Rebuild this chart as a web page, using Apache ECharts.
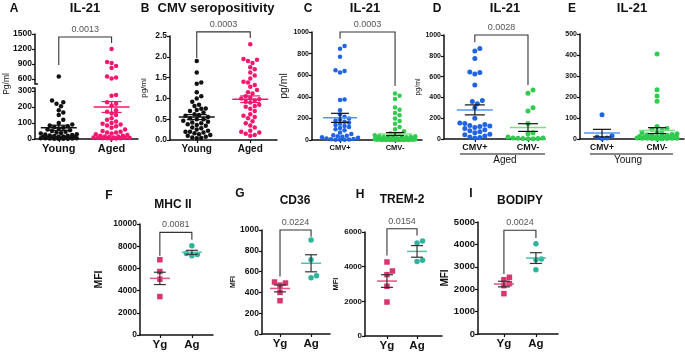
<!DOCTYPE html>
<html>
<head>
<meta charset="utf-8">
<script src="https://cdn.jsdelivr.net/npm/echarts@6/dist/echarts.min.js"></script>
<style>
html, body { margin: 0; padding: 0; background: #fff; }
#main { width: 685px; height: 354px; }
</style>
</head>
<body>
<div id="main"></div>
<script>
var FONT = '"Liberation Sans", Arial, sans-serif';

// A - IL-21, young vs aged (broken axis)
var ageGroups = ['Young', 'Aged'];
var il21Young = [650, 240, 230, 220, 205, 180, 165, 150, 120, 100, 90, 85, 80, 75, 70, 65, 60, 55, 50, 45, 40, 38, 35, 30,
  28, 25, 22, 20, 18, 15, 14, 12, 12, 10, 10, 8, 8, 6, 6, 5, 5, 4, 3, 3, 2, 2, 1, 1];
var il21Aged = [1200, 940, 920, 860, 820, 650, 630, 610, 275, 270, 230, 220, 210, 180, 170, 160, 150, 130, 120, 110, 100,
  95, 90, 85, 80, 70, 60, 50, 45, 40, 40, 35, 30, 25, 20, 20, 15, 15, 12, 10, 10, 8, 8, 6, 5, 5, 4, 3, 2];
var il21Mean = [70, 200];
var il21Sem = [16, 34];
var il21Bracket = [880, 1320, 1440];
var il21P = '0.0013';
var il21LowTicks = [0, 300, 100];
var il21HighTicks = [600, 1500, 300];

// B - CMV seropositivity
var cmvYoung = [1.9, 1.62, 1.38, 1.35, 1.15, 1.05, 1.0, 0.92, 0.85, 0.82, 0.76, 0.75, 0.72, 0.7, 0.66, 0.62, 0.6, 0.58,
  0.55, 0.52, 0.5, 0.5, 0.46, 0.44, 0.42, 0.4, 0.38, 0.36, 0.34, 0.3, 0.28, 0.25, 0.22, 0.2, 0.2, 0.18, 0.16, 0.14, 0.12,
  0.1, 0.08, 0.06, 0.05, 0.04];
var cmvAged = [2.3, 1.95, 1.93, 1.9, 1.85, 1.75, 1.7, 1.62, 1.55, 1.48, 1.4, 1.38, 1.32, 1.28, 1.2, 1.15, 1.12, 1.05, 1.02,
  1.0, 0.98, 0.95, 0.92, 0.9, 0.85, 0.82, 0.8, 0.75, 0.7, 0.62, 0.58, 0.55, 0.52, 0.45, 0.4, 0.35, 0.3, 0.22, 0.2, 0.18,
  0.15, 0.12, 0.1];
var cmvMean = [0.55, 0.98];
var cmvSem = [0.06, 0.08];
var cmvBracket = [1.97, 2.45, 2.6];
var cmvP = '0.0003';
var cmvTicks = [0, 2.5, 0.5];

// C - IL-21 by CMV status, all donors
var serostatus = ['CMV+', 'CMV-'];
var allPos = [870, 845, 770, 645, 640, 625, 375, 370, 275, 235, 215, 200, 190, 180, 170, 160, 150, 140, 130, 120, 110, 100,
  90, 70, 55, 45, 40, 35, 30, 25, 20, 15, 10, 8, 5, 3, 2, 2];
var allNeg = [430, 410, 380, 300, 280, 250, 230, 200, 175, 150, 120, 100, 80, 60, 55, 50, 45, 40, 35, 30, 28, 25, 22, 20,
  18, 16, 15, 14, 12, 12, 10, 10, 9, 8, 8, 7, 6, 6, 5, 5, 4, 4, 3, 3, 2, 2, 2, 1, 1, 1, 0, 0, 0, 0];
var allMean = [205, 55];
var allSem = [42, 14];
var allBracket = [940, 500, 1000];
var allP = '0.0003';
var allTicks = [0, 1000, 200];

// D - aged donors
var agedPos = [870, 845, 775, 645, 640, 625, 520, 370, 360, 340, 300, 200, 155, 150, 140, 130, 125, 120, 110, 100, 90, 80,
  70, 60, 45, 40, 30, 20, 15, 10];
var agedNeg = [470, 440, 300, 270, 150, 60, 50, 20, 15, 10, 10, 8, 5, 5, 3, 2];
var agedMean = [280, 110];
var agedSem = [48, 37];
var agedBracket = [930, 520, 1000];
var agedP = '0.0028';
var agedTicks = [0, 1000, 200];

// E - young donors
var youngPos = [115, 15, 10, 5, 2];
var youngNeg = [405, 235, 205, 180, 60, 50, 45, 40, 35, 30, 25, 22, 20, 18, 15, 15, 12, 12, 10, 10, 8, 8, 6, 6, 5, 5, 4, 4,
  3, 3, 2, 2, 1, 1];
var youngMean = [28, 40];
var youngSem = [18, 14];
var youngTicks = [0, 500, 100];

// F-I - MFI, Yg vs Ag
var cellGroups = ['Yg', 'Ag'];
var mhcYg = [6780, 5720, 5030, 3460];
var mhcAg = [8050, 7350, 7250, 7150];
var mhcMean = [5100, 7450];
var mhcSem = [555, 180];
var mhcBracket = [7140, 8580, 9250];
var mhcP = '0.0081';
var mhcTicks = [0, 10000, 2000];

var cd36Yg = [500, 490, 470, 400, 320];
var cd36Ag = [905, 715, 560, 540];
var cd36Mean = [438, 680];
var cd36Sem = [33, 82];
var cd36Bracket = [553, 936, 1000];
var cd36P = '0.0224';
var cd36Ticks = [0, 1000, 200];

var trem2Yg = [4270, 3750, 3540, 2870, 1960];
var trem2Ag = [5480, 5370, 4370, 4300];
var trem2Mean = [3170, 4880];
var trem2Sem = [365, 335];
var trem2Bracket = [4650, 5800, 6190];
var trem2P = '0.0154';
var trem2Ticks = [0, 6000, 2000];

var bodipyYg = [2530, 2420, 2250, 2160, 1800];
var bodipyAg = [4030, 3350, 3320, 2870];
var bodipyMean = [2230, 3390];
var bodipySem = [125, 240];
var bodipyBracket = [2680, 4290, 4630];
var bodipyP = '0.0024';
var bodipyTicks = [0, 5000, 1000];

var grids = [], xAxes = [], yAxes = [], series = [];

// spread dots sideways so they don't overlap (beeswarm)
function swarm(vals, g, ppx, ppy, d, maxHalf) {
  var placed = [], out = [];
  vals.slice().sort(function (a, b) { return a - b; }).forEach(function (v) {
    var py = v * ppy, best = 0, bestGap = -1;
    for (var k = 0; k < 80; k++) {
      var off = k === 0 ? 0 : (k % 2 ? 1 : -1) * Math.ceil(k / 2) * d * 0.5;
      if (Math.abs(off) > maxHalf) break;
      var gap = Infinity;
      placed.forEach(function (p) {
        var dx = p[0] - off, dy = p[1] - py;
        gap = Math.min(gap, Math.sqrt(dx * dx + dy * dy));
      });
      if (gap >= d * 0.95) { best = off; break; }
      if (gap > bestGap) { bestGap = gap; best = off; }
    }
    placed.push([best, py]);
    out.push([g + best / ppx, v]);
  });
  return out;
}

function addGrid(box, xr, yr, cats, look) {
  var i = grids.length;
  grids.push({ left: box[0], top: box[1], width: box[2], height: box[3] });
  xAxes.push({
    type: 'value', gridIndex: i, min: xr[0], max: xr[1], show: look.xShow !== false,
    axisLine: { show: true, onZero: false, lineStyle: { color: '#111', width: 1.5 } },
    axisTick: { show: true, customValues: [0, 1], length: 3, lineStyle: { color: '#111', width: 1.2 } },
    axisLabel: {
      show: true, customValues: [0, 1], margin: 4, color: '#111', fontWeight: 'bold',
      fontSize: look.xFont, fontFamily: FONT,
      formatter: function (v) { return cats[Math.round(v)]; }
    },
    splitLine: { show: false }
  });
  yAxes.push({
    type: 'value', gridIndex: i, min: yr[0], max: yr[1], interval: yr[2],
    axisLine: { show: true, onZero: false, lineStyle: { color: '#111', width: 1.5 } },
    axisTick: { show: true, length: 3, lineStyle: { color: '#111', width: 1.2 } },
    axisLabel: { margin: 3, color: '#111', fontWeight: 'bold', fontSize: look.yFont, fontFamily: FONT,
      formatter: look.yFmt || function (v) { return String(v); } },
    splitLine: { show: false },
    name: look.yName || '', nameLocation: 'middle', nameGap: look.nameGap,
    nameTextStyle: { fontSize: look.nameFont, fontWeight: look.nameBold ? 'bold' : 'normal', color: '#111', fontFamily: FONT }
  });
  return i;
}

function addDots(i, box, xr, yr, vals, g, color, symbol, size, maxHalf) {
  var ppx = box[2] / (xr[1] - xr[0]), ppy = box[3] / (yr[1] - yr[0]);
  series.push({
    type: 'scatter', xAxisIndex: i, yAxisIndex: i, symbol: symbol, symbolSize: size, silent: true, z: 2,
    itemStyle: { color: color, opacity: 1 },
    data: swarm(vals, g, ppx, ppy, size, maxHalf)
  });
}

function errSeries(i, means, sems, look) {
  return {
    type: 'custom', xAxisIndex: i, yAxisIndex: i, silent: true, z: 5,
    data: means.map(function (m, k) { return [k, m, sems[k]]; }),
    renderItem: function (params, api) {
      var k = api.value(0), m = api.value(1), s = api.value(2);
      var c = api.coord([k, m]), hi = api.coord([k, m + s]), lo = api.coord([k, m - s]);
      var ml = { stroke: look.meanColors[k], lineWidth: 1.5 };
      var sl = { stroke: look.semColors[k], lineWidth: 1.2 };
      var h = look.meanHalf, q = look.capHalf;
      return { type: 'group', children: [
        { type: 'line', shape: { x1: c[0] - h, y1: c[1], x2: c[0] + h, y2: c[1] }, style: ml },
        { type: 'line', shape: { x1: c[0], y1: hi[1], x2: c[0], y2: lo[1] }, style: sl },
        { type: 'line', shape: { x1: c[0] - q, y1: hi[1], x2: c[0] + q, y2: hi[1] }, style: sl },
        { type: 'line', shape: { x1: c[0] - q, y1: lo[1], x2: c[0] + q, y2: lo[1] }, style: sl }
      ] };
    }
  };
}

function bracketSeries(i, b, p) {
  return {
    type: 'custom', xAxisIndex: i, yAxisIndex: i, silent: true, z: 6,
    data: [[0, 1, b[0], b[1], b[2]]],
    renderItem: function (params, api) {
      var l0 = api.coord([api.value(0), api.value(2)]);
      var lt = api.coord([api.value(0), api.value(4)]);
      var rt = api.coord([api.value(1), api.value(4)]);
      var r0 = api.coord([api.value(1), api.value(3)]);
      return { type: 'group', children: [
        { type: 'polyline', shape: { points: [l0, lt, rt, r0] }, style: { stroke: '#333', lineWidth: 1.1, fill: null } },
        { type: 'text', x: (lt[0] + rt[0]) / 2, y: lt[1] - 3,
          style: { text: p, fill: '#555', font: '9px ' + FONT, align: 'center', verticalAlign: 'bottom' } }
      ] };
    }
  };
}

function addPanel(box, xr, yr, cats, sets, mean, sem, look, bracket, p) {
  var i = addGrid(box, xr, yr, cats, look);
  sets.forEach(function (vals, g) {
    addDots(i, box, xr, yr, vals, g, look.colors[g], look.symbols[g], look.dot, look.spread);
  });
  series.push(errSeries(i, mean, sem, look));
  if (bracket) series.push(bracketSeries(i, bracket, p));
}

// styles
var lookAge = { colors: ['#111', '#f5176f'], symbols: ['circle', 'circle'], meanColors: ['#111', '#f5176f'],
  semColors: ['#111', '#f5176f'], dot: 4.5, spread: 20, meanHalf: 18, capHalf: 10 };
var lookCmv = { colors: ['#1f64e4', '#2fcc4f'], symbols: ['circle', 'circle'], meanColors: ['#5296f2', '#7ae07f'],
  semColors: ['#111', '#111'], dot: 4.5, spread: 22, meanHalf: 17, capHalf: 9 };
var lookCell = { colors: ['#d8356d', '#2eb39c'], symbols: ['rect', 'circle'], meanColors: ['#e2557f', '#4cc2ad'],
  semColors: ['#333', '#333'], dot: 5.5, spread: 8, meanHalf: 10, capHalf: 6 };

function ext(base, extra) {
  var o = {};
  for (var k in base) o[k] = base[k];
  for (var k2 in extra) o[k2] = extra[k2];
  return o;
}

// A: broken axis drawn as two stacked grids
(function () {
  var xr = [-0.45, 1.5];
  var lowBox = [35, 91, 103, 48], highBox = [35, 34, 103, 45];
  var lookLow = ext(lookAge, { xFont: 11, yFont: 8.5 });
  var lookHigh = ext(lookAge, { xFont: 11, yFont: 8.5, xShow: false });
  var lo = addGrid(lowBox, xr, il21LowTicks, ageGroups, lookLow);
  var hi = addGrid(highBox, xr, il21HighTicks, ageGroups, lookHigh);
  [il21Young, il21Aged].forEach(function (vals, g) {
    addDots(lo, lowBox, xr, il21LowTicks, vals.filter(function (v) { return v <= il21LowTicks[1]; }), g,
      lookAge.colors[g], 'circle', lookAge.dot, lookAge.spread);
    addDots(hi, highBox, xr, il21HighTicks, vals.filter(function (v) { return v >= il21HighTicks[0]; }), g,
      lookAge.colors[g], 'circle', lookAge.dot, lookAge.spread);
  });
  series.push(errSeries(lo, il21Mean, il21Sem, lookAge));
  series.push(bracketSeries(hi, il21Bracket, il21P));
})();

addPanel([170, 36, 107, 104], [-0.5, 1.5], cmvTicks, ageGroups, [cmvYoung, cmvAged], cmvMean, cmvSem,
  ext(lookAge, { xFont: 10, yFont: 8.5, yName: 'pg/ml', nameGap: 22, nameFont: 8,
    yFmt: function (v) { return v.toFixed(1); } }), cmvBracket, cmvP);

addPanel([312, 32, 110, 108], [-0.51, 1.49], allTicks, serostatus, [allPos, allNeg], allMean, allSem,
  ext(lookCmv, { xFont: 7.5, yFont: 7, yName: 'pg/ml', nameGap: 19, nameFont: 10.5 }), allBracket, allP);

addPanel([444, 35, 101, 104], [-0.58, 1.32], agedTicks, serostatus, [agedPos, agedNeg], agedMean, agedSem,
  ext(lookCmv, { xFont: 9, yFont: 7, yName: 'pg/ml', nameGap: 22, nameFont: 7, dot: 5, meanHalf: 18, capHalf: 10 }),
  agedBracket, agedP);

addPanel([580, 34, 104, 105], [-0.4, 1.49], youngTicks, serostatus, [youngPos, youngNeg], youngMean, youngSem,
  ext(lookCmv, { xFont: 8.5, yFont: 7, dot: 5, meanHalf: 18, capHalf: 9 }), null, null);

addPanel([140, 224, 73, 111], [-0.62, 1.66], mhcTicks, cellGroups, [mhcYg, mhcAg], mhcMean, mhcSem,
  ext(lookCell, { xFont: 11.5, yFont: 8.5, yName: 'MFI', nameGap: 35, nameFont: 10.5, nameBold: true }), mhcBracket, mhcP);

addPanel([262, 230, 68, 104], [-0.58, 1.61], cd36Ticks, cellGroups, [cd36Yg, cd36Ag], cd36Mean, cd36Sem,
  ext(lookCell, { xFont: 11.5, yFont: 8.5, yName: 'MFI', nameGap: 25, nameFont: 7, nameBold: true }), cd36Bracket, cd36P);

addPanel([365, 232, 77, 104], [-0.73, 1.83], trem2Ticks, cellGroups, [trem2Yg, trem2Ag], trem2Mean, trem2Sem,
  ext(lookCell, { xFont: 11.5, yFont: 8, yName: 'MFI', nameGap: 25, nameFont: 7.5, nameBold: true }), trem2Bracket, trem2P);

addPanel([478, 222, 80, 112], [-0.81, 1.69], bodipyTicks, cellGroups, [bodipyYg, bodipyAg], bodipyMean, bodipySem,
  ext(lookCell, { xFont: 11.5, yFont: 9.5, yName: 'MFI', nameGap: 27, nameFont: 10, nameBold: true }), bodipyBracket, bodipyP);

// titles, panel letters, group labels
var titles = [['IL-21', 85, 8, 13], ['CMV seropositivity', 216, 8, 13], ['IL-21', 365, 8, 13], ['IL-21', 505, 8, 13],
  ['IL-21', 632, 8, 13], ['MHC II', 173, 205, 12], ['CD36', 295, 201, 12], ['TREM-2', 402, 200, 12], ['BODIPY', 520, 201, 12],
  ['A', 14, 9, 12], ['B', 145, 9, 12], ['C', 308, 9, 12], ['D', 437, 9, 12], ['E', 572, 9, 12],
  ['F', 109, 196, 12], ['G', 240, 194, 12], ['H', 360, 195, 12], ['I', 471, 194, 12]];

var graphic = titles.map(function (t) {
  return { type: 'text', x: t[1], y: t[2], style: { text: t[0], font: 'bold ' + t[3] + 'px ' + FONT, fill: '#111',
    align: 'center', verticalAlign: 'middle' } };
});
graphic.push({ type: 'text', x: 7, y: 84, rotation: Math.PI / 2,
  style: { text: 'Pg/ml', font: '8.5px ' + FONT, fill: '#111', align: 'center', verticalAlign: 'middle' } });
// axis break marks on A
graphic.push({ type: 'polyline', shape: { points: [[35, 79], [35, 84], [38, 84]] }, style: { stroke: '#111', lineWidth: 1.5, fill: null } });
graphic.push({ type: 'polyline', shape: { points: [[35, 91], [35, 88], [32, 88]] }, style: { stroke: '#111', lineWidth: 1.5, fill: null } });
// group labels under D and E
graphic.push({ type: 'line', shape: { x1: 460, y1: 154, x2: 545, y2: 154 }, style: { stroke: '#111', lineWidth: 1 } });
graphic.push({ type: 'text', x: 505, y: 160, style: { text: 'Aged', font: '10px ' + FONT, fill: '#111', align: 'center', verticalAlign: 'middle' } });
graphic.push({ type: 'line', shape: { x1: 590, y1: 154, x2: 673, y2: 154 }, style: { stroke: '#111', lineWidth: 1 } });
graphic.push({ type: 'text', x: 628, y: 160, style: { text: 'Young', font: '10px ' + FONT, fill: '#111', align: 'center', verticalAlign: 'middle' } });

var option = {
  animation: false,
  backgroundColor: '#fff',
  textStyle: { fontFamily: FONT },
  grid: grids,
  xAxis: xAxes,
  yAxis: yAxes,
  series: series,
  graphic: graphic
};

var myChart = echarts.init(document.getElementById('main'));
myChart.setOption(option);
</script>
</body>
</html>
